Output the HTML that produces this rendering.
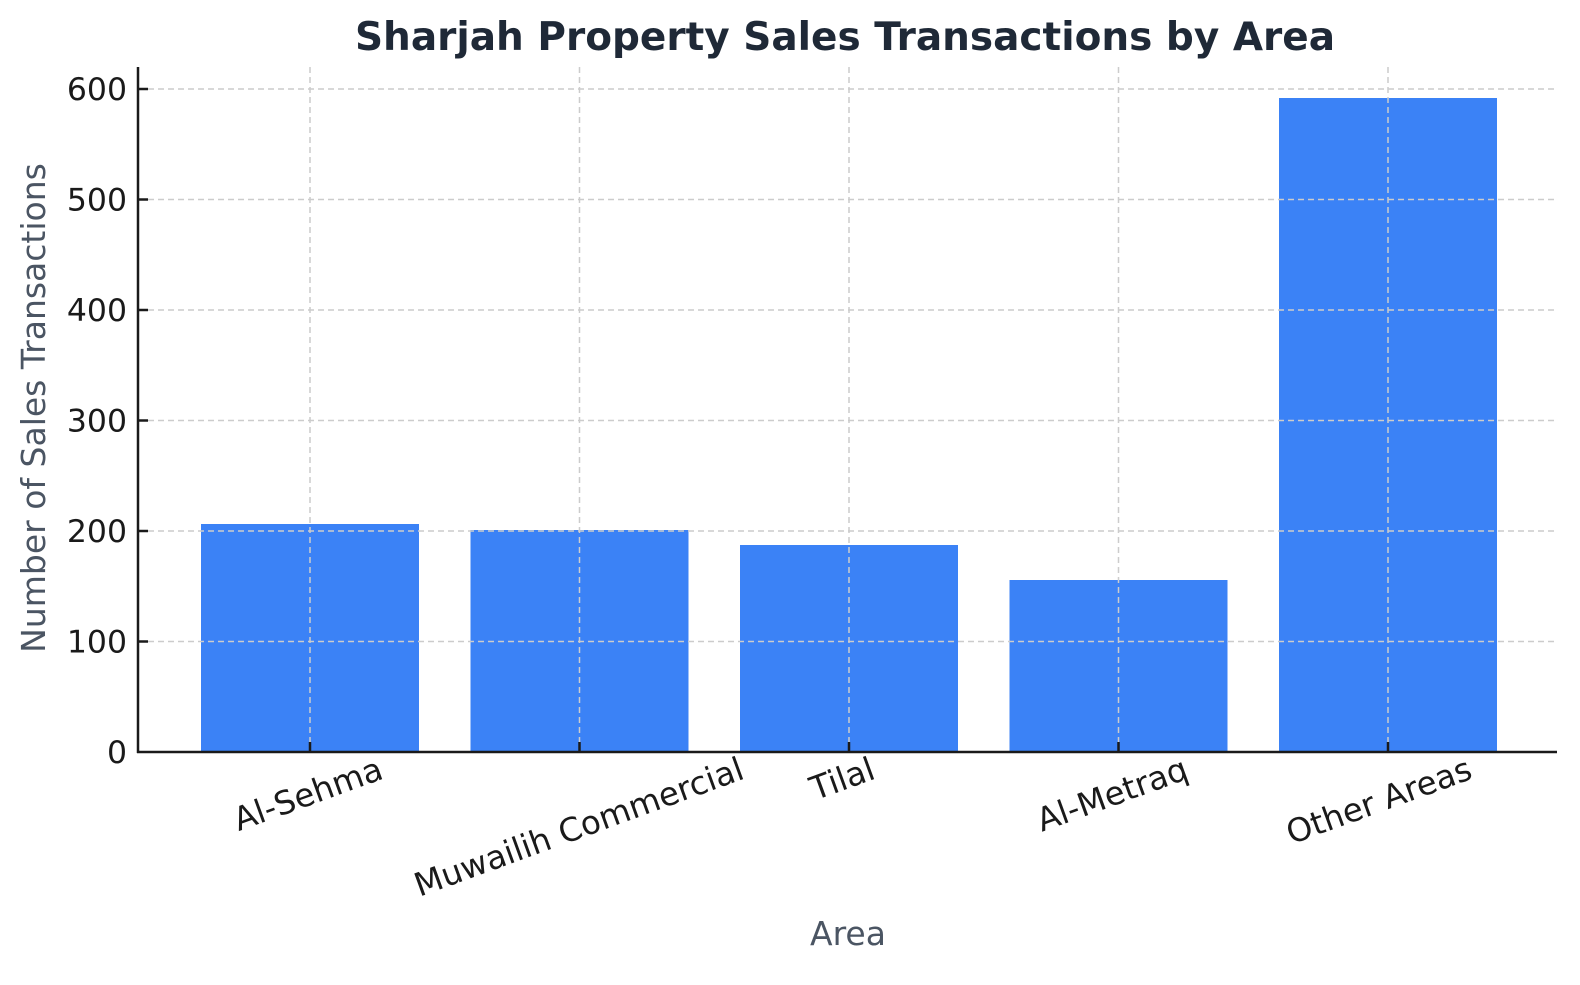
<!DOCTYPE html>
<html><head><style>body{margin:0;background:#fff}</style></head><body>
<svg width="1580" height="980" xmlns="http://www.w3.org/2000/svg" font-family="DejaVu Sans, Liberation Sans, sans-serif">
<text x="845" y="50" text-anchor="middle" font-size="39" font-weight="bold" fill="#1f2937">Sharjah Property Sales Transactions by Area</text>
<g fill="#3b82f6">
<rect x="201" y="524" width="218" height="228"/>
<rect x="470.5" y="530" width="218" height="222"/>
<rect x="740" y="545" width="218" height="207"/>
<rect x="1009.5" y="580" width="218" height="172"/>
<rect x="1279" y="98" width="218" height="654"/>
</g>
<g stroke="#ccc" stroke-width="1.5" stroke-dasharray="6,4">
<line x1="138" x2="1557" y1="89" y2="89"/><line x1="138" x2="1557" y1="199.5" y2="199.5"/><line x1="138" x2="1557" y1="310" y2="310"/><line x1="138" x2="1557" y1="420.5" y2="420.5"/><line x1="138" x2="1557" y1="531" y2="531"/><line x1="138" x2="1557" y1="641.5" y2="641.5"/>
<line x1="310" x2="310" y1="67" y2="752"/><line x1="579.5" x2="579.5" y1="67" y2="752"/><line x1="849" x2="849" y1="67" y2="752"/><line x1="1118.5" x2="1118.5" y1="67" y2="752"/><line x1="1388" x2="1388" y1="67" y2="752"/>
</g>
<g stroke="#1a1a1a" stroke-width="2.5">
<line x1="138" x2="138" y1="67" y2="753"/><line x1="137" x2="1557" y1="752" y2="752"/>
<line x1="310" x2="310" y1="752" y2="742"/><line x1="579.5" x2="579.5" y1="752" y2="742"/><line x1="849" x2="849" y1="752" y2="742"/><line x1="1118.5" x2="1118.5" y1="752" y2="742"/><line x1="1388" x2="1388" y1="752" y2="742"/>
<line x1="138" x2="148" y1="89" y2="89"/><line x1="138" x2="148" y1="199.5" y2="199.5"/><line x1="138" x2="148" y1="310" y2="310"/><line x1="138" x2="148" y1="420.5" y2="420.5"/><line x1="138" x2="148" y1="531" y2="531"/><line x1="138" x2="148" y1="641.5" y2="641.5"/>
</g>
<g font-size="31.5" fill="#1a1a1a" text-anchor="end">
<text x="127" y="100">600</text><text x="127" y="210.5">500</text><text x="127" y="321">400</text><text x="127" y="431.5">300</text><text x="127" y="542">200</text><text x="127" y="652.5">100</text><text x="127" y="763">0</text>
</g>
<g font-size="32.5" fill="#1a1a1a" text-anchor="end">
<text transform="translate(385,778) rotate(-20)">Al-Sehma</text>
<text transform="translate(746,778) rotate(-20)">Muwailih Commercial</text>
<text transform="translate(877,778) rotate(-20)">Tilal</text>
<text transform="translate(1190,778) rotate(-20)">Al-Metraq</text>
<text transform="translate(1474,778) rotate(-20)">Other Areas</text>
</g>
<text x="848" y="945" text-anchor="middle" font-size="33" fill="#4b5563">Area</text>
<text transform="translate(45,408) rotate(-90)" text-anchor="middle" font-size="33" fill="#4b5563">Number of Sales Transactions</text>
</svg>
</body></html>
